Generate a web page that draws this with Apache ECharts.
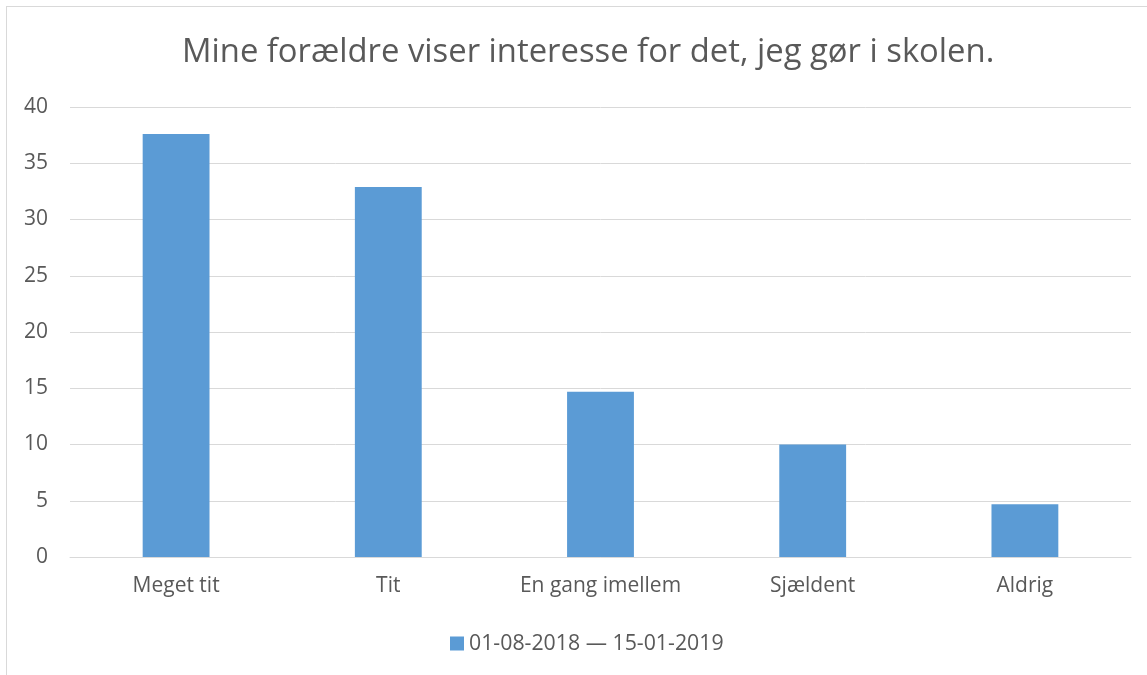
<!DOCTYPE html>
<html>
<head>
<meta charset="utf-8">
<script src="https://cdn.jsdelivr.net/npm/echarts@6/dist/echarts.min.js"></script>
<style>
  html, body { margin: 0; padding: 0; background: #fff; }
  #frame {
    position: absolute; left: 6px; top: 6px; width: 1160px; height: 700px;
    border: 1px solid #d9d9d9; box-sizing: border-box;
  }
  #chart { position: absolute; left: 0; top: 0; width: 1147px; height: 675px; }
</style>
</head>
<body>
<div id="frame"></div>
<div id="chart"></div>
<script>
// answer categories and share of responses
const categories = ['Meget tit', 'Tit', 'En gang imellem', 'Sjældent', 'Aldrig']
const values = [37.6, 32.9, 14.7, 10.0, 4.7]
const seriesName = '01-08-2018 \u2014 15-01-2019'
const titleText = 'Mine forældre viser interesse for det, jeg gør i skolen.'

const textColor = '#595959'
const gridColor = '#d9d9d9'
const barColor = '#5b9bd5'
const font = '"Open Sans", sans-serif'

const chart = echarts.init(document.getElementById('chart'), null, { renderer: 'canvas' })

chart.setOption({
  animation: false,
  title: {
    text: titleText,
    left: 177,
    top: 31,
    textStyle: { color: textColor, fontSize: 32.8, fontWeight: 'normal', fontFamily: font }
  },
  legend: {
    data: [seriesName],
    bottom: 16,
    left: 445,
    icon: 'rect',
    itemWidth: 14,
    itemHeight: 14,
    itemGap: 6,
    itemStyle: { borderWidth: 0 },
    textStyle: { color: textColor, fontSize: 21.3, fontFamily: font }
  },
  grid: { left: 70, right: 16, top: 107, bottom: 118, containLabel: false },
  xAxis: {
    type: 'category',
    data: categories,
    axisLine: { lineStyle: { color: gridColor } },
    axisTick: { show: false },
    axisLabel: { color: textColor, fontSize: 21, fontFamily: font, margin: 19 }
  },
  yAxis: {
    type: 'value',
    min: 0,
    max: 40,
    interval: 5,
    axisLine: { show: false },
    axisTick: { show: false },
    splitLine: { lineStyle: { color: gridColor, width: 1 } },
    axisLabel: { color: textColor, fontSize: 21, fontFamily: font, margin: 22 }
  },
  series: [{
    name: seriesName,
    type: 'bar',
    data: values,
    barWidth: '31.5%',
    itemStyle: { color: barColor }
  }]
})
</script>
</body>
</html>
